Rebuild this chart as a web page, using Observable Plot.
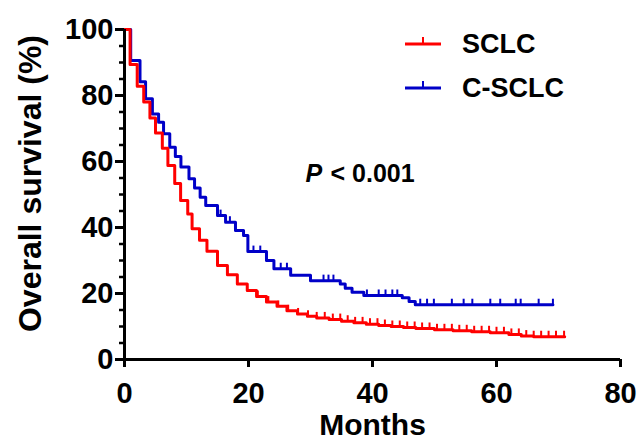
<!DOCTYPE html>
<html>
<head>
<meta charset="utf-8">
<script src="https://cdn.jsdelivr.net/npm/d3@7"></script>
<script src="https://cdn.jsdelivr.net/npm/@observablehq/plot@0.6"></script>
<style>
  html, body { margin: 0; padding: 0; background: white; }
  #chart { width: 638px; height: 447px; }
</style>
</head>
<body>
<div id="chart"></div>
<script>
// ---------- data ----------
const seriesNames = ["SCLC", "C-SCLC"];
const seriesColors = ["#ff0000", "#0000c8"];

// SCLC step curve: times (months) and survival (%)
const sclcTimes = [0, 0.9, 2.05, 3.1, 4.1, 5.0, 6.1, 7.0, 8.1, 9.05, 10.2, 10.9, 12.1, 13.3, 15.0, 16.6, 18.2, 19.8, 21.3, 22.9, 24.6, 26.2, 27.9, 29.5, 31.0, 33.0, 35.0, 37.0, 39.0, 41.0, 43.0, 45.0, 47.0, 50.0, 53.0, 56.0, 59.0, 62.0, 64.0, 66.0, 71.0];
const sclcSurv  = [100, 89.4, 82.8, 78.0, 73.2, 68.6, 64.0, 58.8, 53.3, 48.2, 44.1, 39.6, 36.1, 32.8, 28.5, 25.7, 22.9, 20.9, 19.1, 17.4, 16.1, 14.8, 13.8, 13.1, 12.6, 12.1, 11.6, 11.1, 10.7, 10.3, 10.0, 9.7, 9.4, 9.0, 8.7, 8.4, 8.1, 7.6, 7.1, 6.9, 6.9];
const sclcCensor = [21.5, 23.2, 24.8, 26.4, 28.0, 29.6, 31.0, 32.3, 33.6, 34.8, 36.0, 37.2, 38.4, 39.6, 40.8, 42.0, 43.2, 44.4, 45.6, 46.8, 48.0, 49.2, 50.4, 51.6, 52.8, 54.0, 55.2, 56.4, 57.6, 58.8, 60.0, 61.2, 62.4, 63.6, 64.8, 66.0, 67.2, 68.4, 69.6, 70.9];

// C-SCLC step curve
const csclcTimes = [0, 1.0, 2.5, 3.4, 4.5, 5.5, 6.3, 7.3, 8.2, 9.1, 10.4, 11.3, 12.2, 13.1, 15.0, 16.3, 17.9, 19.2, 19.9, 22.9, 24.1, 26.8, 30.0, 34.8, 35.6, 36.7, 38.6, 44.8, 45.9, 46.9, 69.1];
const csclcSurv  = [100, 90.6, 84.2, 79.0, 74.4, 71.9, 68.4, 64.3, 61.5, 58.3, 54.8, 52.0, 49.2, 46.7, 43.6, 41.6, 39.1, 37.6, 32.7, 30.0, 27.5, 25.5, 23.9, 22.9, 21.6, 20.4, 19.4, 18.7, 17.6, 16.6, 16.6];
const csclcCensor = [15.5, 17.0, 20.8, 21.9, 25.2, 26.2, 32.1, 32.9, 33.7, 39.1, 41.0, 42.1, 43.2, 44.0, 47.7, 48.8, 49.9, 52.8, 54.7, 56.1, 59.0, 60.6, 63.1, 63.9, 66.8, 69.1];

const xTicks = [0, 20, 40, 60, 80];
const yTicks = [0, 20, 40, 60, 80, 100];
const yMinorTicks = [5, 10, 15, 25, 30, 35, 45, 50, 55, 65, 70, 75, 85, 90, 95];
const xTitle = "Months";
const yTitle = "Overall survival (%)";
const pLabel = "P";
const pValue = "< 0.001";

// ---------- build tables ----------
function stepTable(times, surv, name) {
  return times.map((t, i) => ({t, s: surv[i], name}));
}
function survAt(times, surv, t) {
  let v = surv[0];
  for (let i = 0; i < times.length; i++) if (times[i] <= t) v = surv[i];
  return v;
}
const sclcLine = stepTable(sclcTimes, sclcSurv, seriesNames[0]);
const csclcLine = stepTable(csclcTimes, csclcSurv, seriesNames[1]);
const sclcCens = sclcCensor.map(t => ({t, s: survAt(sclcTimes, sclcSurv, t)}));
const csclcCens = csclcCensor.map(t => ({t, s: survAt(csclcTimes, csclcSurv, t)}));

const censorSymbol = { draw(ctx, size) { ctx.moveTo(0, 0); ctx.lineTo(0, -6); } };
const FONT = "'Liberation Sans', Arial, Helvetica, sans-serif";

// legend drawn relative to frame
function legendMark(index, scales, values, dims) {
  const g = d3.create("svg:g").attr("font-family", FONT).attr("font-weight", "bold");
  const right = dims.width - dims.marginRight;
  const top = dims.marginTop;
  seriesNames.forEach((name, i) => {
    const y = top + 15 + i * 44;
    const x0 = right - 215, x1 = right - 179;
    g.append("line").attr("x1", x0).attr("x2", x1).attr("y1", y).attr("y2", y)
      .attr("stroke", seriesColors[i]).attr("stroke-width", 3);
    g.append("line").attr("x1", (x0 + x1) / 2).attr("x2", (x0 + x1) / 2).attr("y1", y).attr("y2", y - 7)
      .attr("stroke", seriesColors[i]).attr("stroke-width", 2);
    g.append("text").attr("x", right - 158).attr("y", y).attr("dy", "0.35em")
      .attr("text-anchor", "start")
      .attr("font-size", 27).attr("fill", "black").text(name);
  });
  return g.node();
}

const chart = Plot.plot({
  width: 638,
  height: 447,
  marginLeft: 124,
  marginRight: 18,
  marginTop: 29,
  marginBottom: 88,
  x: {domain: [0, 80]},
  y: {domain: [0, 100]},
  style: {fontFamily: FONT, fontWeight: "bold", color: "black", background: "white", overflow: "visible"},
  marks: [
    Plot.line(csclcLine, {x: "t", y: "s", curve: "step-after", stroke: seriesColors[1], strokeWidth: 3}),
    Plot.dot(csclcCens, {x: "t", y: "s", symbol: censorSymbol, stroke: seriesColors[1], fill: "none", strokeWidth: 2}),
    Plot.line(sclcLine, {x: "t", y: "s", curve: "step-after", stroke: seriesColors[0], strokeWidth: 3}),
    Plot.dot(sclcCens, {x: "t", y: "s", symbol: censorSymbol, stroke: seriesColors[0], fill: "none", strokeWidth: 2}),
    Plot.axisY({ticks: yMinorTicks, tickSize: 5, strokeWidth: 2.5, tickFormat: () => "", label: null}),
    Plot.axisY({ticks: yTicks, tickSize: 9, tickPadding: 2, strokeWidth: 3, fontSize: 29, fontWeight: "bold", label: null}),
    Plot.axisX({ticks: xTicks, tickSize: 8, tickPadding: 15, strokeWidth: 3, fontSize: 29, fontWeight: "bold", label: null}),
    Plot.ruleX([0], {strokeWidth: 3, stroke: "black"}),
    Plot.ruleY([0], {strokeWidth: 3, stroke: "black"}),
    Plot.text([yTitle], {frameAnchor: "left", textAnchor: "middle", rotate: -90, dx: -94, dy: -11, fontSize: 32, fontWeight: "bold", fill: "black"}),
    Plot.text([xTitle], {frameAnchor: "bottom", dy: 75, fontSize: 30, fontWeight: "bold", fill: "black"}),
    Plot.text([pLabel], {frameAnchor: "top-left", dx: 181, dy: 135, textAnchor: "start", fontSize: 25, fontWeight: "bold", fontStyle: "italic", fill: "black"}),
    Plot.text([pValue], {frameAnchor: "top-left", dx: 206, dy: 135, textAnchor: "start", fontSize: 25, fontWeight: "bold", fill: "black"}),
    legendMark
  ]
});
document.getElementById("chart").appendChild(chart);
</script>
</body>
</html>
